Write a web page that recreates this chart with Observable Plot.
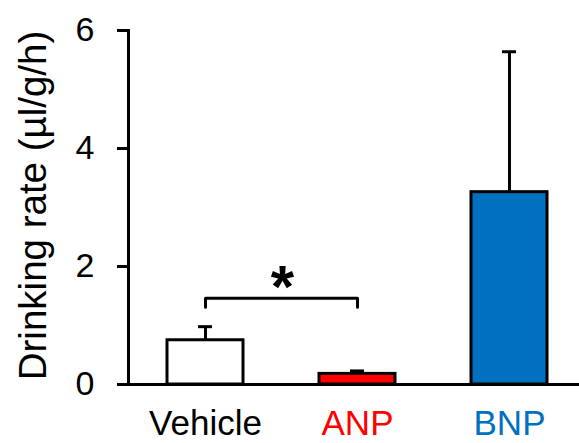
<!DOCTYPE html>
<html>
<head>
<meta charset="utf-8">
<script src="https://cdn.jsdelivr.net/npm/d3@7"></script>
<script src="https://cdn.jsdelivr.net/npm/@observablehq/plot@0.6"></script>
<style>
  html, body { margin: 0; padding: 0; background: #ffffff; }
</style>
</head>
<body>
<div id="chart"></div>
<script>
const categories = ["Vehicle", "ANP", "BNP"];
const means = [0.75, 0.18, 3.26];
const errors = [0.23, 0.05, 2.38];
const barFills = ["#FFFFFF", "#FF0000", "#0070C0"];
const labelColors = ["#000000", "#FF0000", "#0070C0"];
const yTicks = [0, 2, 4, 6];
const yLabel = "Drinking rate (µl/g/h)";
const bracketX = ["Vehicle", "Vehicle", "ANP", "ANP"];
const bracketY = [1.31, 1.46, 1.46, 1.31];
const starLabel = ["*"];
const starAt = ["Vehicle"];
const starY = [1.32];

const data = categories.map((c, i) => ({
  category: c,
  mean: means[i],
  upper: means[i] + errors[i],
  fill: barFills[i],
  color: labelColors[i]
}));
const bracket = bracketX.map((x, i) => ({x, y: bracketY[i]}));
const star = starLabel.map((t, i) => ({text: t, x: starAt[i], y: starY[i]}));

const chart = Plot.plot({
  width: 579,
  height: 443,
  marginTop: 30,
  marginBottom: 59,
  marginLeft: 128,
  marginRight: 0,
  style: {fontFamily: "'Liberation Sans', Arial, sans-serif", background: "white", color: "black"},
  x: {domain: categories, range: [128, 585.5], paddingInner: 0.5, paddingOuter: 0.25, axis: null},
  y: {domain: [0, 6], axis: null},
  marks: [
    Plot.ruleX(data, {x: "category", y1: "mean", y2: "upper", stroke: "black", strokeWidth: 3}),
    Plot.tickY(data, {x: "category", y: "upper", stroke: "black", strokeWidth: 3, insetLeft: 31, insetRight: 31}),
    Plot.barY(data, {x: "category", y: "mean", fill: "fill", stroke: "black", strokeWidth: 3}),
    Plot.ruleY([0], {stroke: "black", strokeWidth: 3}),
    Plot.frame({anchor: "left", stroke: "black", strokeWidth: 3}),
    Plot.axisY({ticks: yTicks, tickFormat: d3.format("d"), tickSize: 11, tickPadding: 23, fontSize: 34, strokeWidth: 3, label: null}),
    Plot.text(data, {x: "category", text: "category", fill: "color", frameAnchor: "bottom", lineAnchor: "top", dy: 26, fontSize: 35}),
    Plot.line(bracket, {x: "x", y: "y", stroke: "black", strokeWidth: 3}),
    Plot.text(star, {x: "x", y: "y", text: "text", dx: 77, fontSize: 60, fontWeight: "bold", lineAnchor: "bottom"}),
    Plot.text([yLabel], {text: d => d, frameAnchor: "left", textAnchor: "middle", lineAnchor: "middle", rotate: -90, dx: -95, dy: -2, fontSize: 38.5})
  ]
});
document.getElementById("chart").appendChild(chart);
</script>
</body>
</html>
